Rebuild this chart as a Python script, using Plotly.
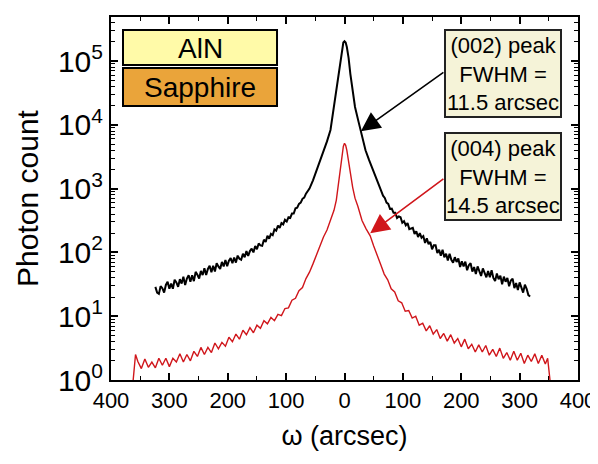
import plotly.graph_objects as go

# ---------------- data ----------------
omega_002 = [-324, -321, -318, -315, -312, -309, -306, -303, -300, -297, -294, -291, -288, -285, -282,
             -279, -276, -273, -270, -267, -264, -261, -258, -255, -252, -249, -246, -243, -240, -237,
             -234, -231, -228, -225, -222, -219, -216, -213, -210, -207, -204, -201, -198, -195, -192,
             -189, -186, -183, -180, -177, -174, -171, -168, -165, -162, -159, -156, -153, -150, -147,
             -144, -141, -138, -135, -132, -129, -126, -123, -120, -117, -114, -111, -108, -105, -102,
             -99, -96, -93, -90, -87, -84, -81, -78, -75, -72, -69, -66, -63, -60,
             -54, -48, -42, -36, -30, -24, -18, -14, -10, -7, -4, -2, 0, 2, 4, 7, 10, 14, 18, 24,
             30, 36, 42, 48, 54,
             60, 63, 66, 69, 72, 75, 78, 81, 84, 87, 90, 93, 96, 99, 102, 105, 108, 111, 114, 117,
             120, 123, 126, 129, 132, 135, 138, 141, 144, 147, 150, 153, 156, 159, 162, 165, 168, 171,
             174, 177, 180, 183, 186, 189, 192, 195, 198, 201, 204, 207, 210, 213, 216, 219, 222, 225,
             228, 231, 234, 237, 240, 243, 246, 249, 252, 255, 258, 261, 264, 267, 270, 273, 276, 279,
             282, 285, 288, 291, 294, 297, 300, 303, 306, 309, 312, 315, 318]
count_002 = [28.8, 23.4, 22.4, 29.5, 27.5, 23.4, 30.9, 34.7, 26.9, 32.4, 26.9, 37.2, 33.9, 28.8, 38.0,
             32.4, 41.7, 30.9, 38.9, 43.7, 34.7, 43.7, 35.5, 49.5, 44.7, 38.9, 51.3, 44.2, 56.2, 44.2,
             55.0, 61.7, 49.0, 61.7, 50.1, 67.6, 60.3, 55.0, 70.8, 60.3, 75.9, 61.0, 74.1, 81.3, 67.6,
             83.2, 69.2, 89.1, 79.4, 76.7, 95.5, 84.1, 105, 88.1, 105, 115, 100, 126, 112, 138,
             129, 127, 158, 146, 182, 164, 195, 186, 229, 219, 263, 243, 288, 275, 324,
             305, 355, 347, 407, 407, 490, 501, 575, 603, 692, 724, 832, 902, 1000,
             1349, 1905, 2692, 3802, 5495, 8318, 19953, 35481, 63096, 112202, 165959, 194984, 204174,
             194984, 165959, 112202, 63096, 31623, 19055, 11220,
             6607, 3981, 2818, 1995, 1413,
             1072, 912, 776, 716, 603, 575, 479, 484, 417, 417, 347, 367, 355, 292, 309, 266, 288,
             232, 240, 243, 195, 214, 174, 200, 170, 180, 141, 166, 135, 146, 112, 129, 129, 97.7,
             110, 89.1, 110, 84.1, 95.5, 75.0, 95.5, 76.7, 69.2, 84.1, 70.8, 80.4, 58.9, 72.4, 60.3,
             71.6, 52.5, 63.1, 67.6, 50.1, 58.9, 45.7, 60.3, 49.0, 42.7, 56.2, 49.0, 40.7, 51.3, 40.7,
             52.5, 39.8, 35.5, 46.8, 38.0, 43.2, 31.6, 41.7, 34.7, 39.8, 29.5, 36.3, 38.9, 27.5, 33.1,
             25.7, 33.9, 27.2, 23.4, 31.3, 26.9, 21.4, 20.4]

omega_004 = [-362, -358, -354, -348, -342, -336, -330, -324, -318, -312, -306, -300, -294, -288, -282,
             -276, -270, -264, -258, -252, -246, -240, -234, -228, -222, -216, -210, -204, -198, -192,
             -186, -180, -174, -168, -162, -156, -150, -144, -138, -132, -126, -120, -114, -108, -102,
             -96, -90, -84, -78, -72, -66, -60,
             -54, -48, -42, -36, -30, -24, -18, -14, -10, -7, -4, -2, 0, 2, 4, 7, 10, 14, 18, 23,
             30, 37, 44, 50, 56,
             62, 68, 74, 80, 86, 92, 98, 104, 110, 116, 122, 128, 134, 140, 146, 152, 158, 164, 170,
             176, 182, 188, 194, 200, 206, 212, 218, 224, 230, 236, 242, 248, 254, 260, 266, 272,
             278, 284, 290, 296, 302, 308, 314, 320, 326, 332, 338, 344, 348, 352]
count_004 = [1.0, 2.51, 1.95, 1.51, 2.14, 1.58, 1.91, 1.55, 2.19, 1.70, 2.19, 1.62, 2.19, 1.91, 2.57,
             1.91, 2.51, 2.00, 2.82, 2.34, 3.24, 2.51, 3.24, 2.69, 3.80, 3.09, 3.89, 3.39, 4.68, 3.98,
             5.25, 4.37, 6.03, 5.13, 6.61, 5.50, 7.24, 6.46, 8.51, 7.59, 9.55, 8.51, 10.7, 10.2, 13.2,
             13.5, 17.8, 19.1, 25.1, 28.2, 38.9, 49.0,
             66.1, 93.3, 126, 174, 224, 316, 457, 661, 1259, 2239, 3548, 4571, 5129, 4786, 3981,
             2818, 1778, 1047, 708, 525,
             316, 234, 182, 126, 87.1,
             64.6, 45.7, 37.2, 26.9, 24.0, 17.4, 16.2, 12.0, 12.3, 9.33, 10.0, 7.24, 7.76, 5.89,
             7.08, 5.25, 6.17, 4.47, 5.37, 4.07, 5.13, 3.80, 4.47, 3.31, 4.37, 3.09, 3.63, 2.75,
             3.55, 2.75, 3.47, 2.45, 3.02, 2.34, 3.16, 2.19, 2.69, 2.04, 2.82, 2.04, 2.63, 1.82,
             2.45, 1.95, 2.57, 1.82, 2.45, 1.78, 2.19, 1.0]

x_tickvals = [-400, -300, -200, -100, 0, 100, 200, 300, 400]
x_ticktext = ["400", "300", "200", "100", "0", "100", "200", "300", "400"]
y_tickvals = [1, 10, 100, 1000, 10000, 100000]
y_ticktext = ["10<sup>0</sup>", "10<sup>1</sup>", "10<sup>2</sup>",
              "10<sup>3</sup>", "10<sup>4</sup>", "10<sup>5</sup>"]

FONT = "Liberation Sans, Arial, sans-serif"
RED = "#D0161B"

fig = go.Figure()
fig.add_trace(go.Scatter(x=omega_002, y=count_002, mode="lines",
                         line=dict(color="black", width=2.0), showlegend=False))
fig.add_trace(go.Scatter(x=omega_004, y=count_004, mode="lines",
                         line=dict(color=RED, width=1.4), showlegend=False))

axis_common = dict(showgrid=False, zeroline=False, showline=True, linecolor="black",
                   linewidth=2, mirror="allticks", ticks="inside", tickcolor="black",
                   tickwidth=1.5, ticklen=7)

fig.update_xaxes(range=[-400, 400], tickvals=x_tickvals, ticktext=x_ticktext,
                 tickfont=dict(family=FONT, size=22, color="black"),
                 title=dict(text="ω (arcsec)", font=dict(family=FONT, size=27, color="black"),
                            standoff=14),
                 minor=dict(ticks="inside", ticklen=4, tickcolor="black", tickwidth=1.2, dtick=50),
                 **axis_common)
fig.update_yaxes(type="log", range=[0, 5.69], tickvals=y_tickvals, ticktext=y_ticktext,
                 tickfont=dict(family=FONT, size=30, color="black"),
                 title=dict(text="Photon count", font=dict(family=FONT, size=30, color="black"),
                            standoff=10),
                 minor=dict(ticks="inside", ticklen=4, tickcolor="black", tickwidth=1.2, dtick="D1"),
                 **axis_common)

shapes = [
    dict(type="rect", xref="paper", yref="paper", x0=0.0257, x1=0.3555, y0=0.8678, y1=0.9642,
         fillcolor="#FFFAA8", line=dict(color="black", width=2)),
    dict(type="rect", xref="paper", yref="paper", x0=0.0257, x1=0.3555, y0=0.7548, y1=0.8595,
         fillcolor="#EAA43A", line=dict(color="black", width=2)),
    dict(type="rect", xref="paper", yref="paper", x0=0.7152, x1=0.9636, y0=0.7245, y1=0.9642,
         fillcolor="#F5F3D8", line=dict(color="#222222", width=2)),
    dict(type="rect", xref="paper", yref="paper", x0=0.7152, x1=0.9636, y0=0.4408, y1=0.6804,
         fillcolor="#F5F3D8", line=dict(color="#222222", width=2)),
]

annotations = [
    dict(text="AlN", xref="paper", yref="paper", x=0.1906, y=0.9146, showarrow=False,
         font=dict(family=FONT, size=28, color="black"), xanchor="center", yanchor="middle"),
    dict(text="Sapphire", xref="paper", yref="paper", x=0.1906, y=0.807, showarrow=False,
         font=dict(family=FONT, size=28, color="black"), xanchor="center", yanchor="middle"),
    dict(text="(002) peak<br>FWHM =<br>11.5 arcsec", xref="paper", yref="paper",
         x=0.8394, y=0.8443, showarrow=False, align="center",
         font=dict(family=FONT, size=22, color="black"), xanchor="center", yanchor="middle"),
    dict(text="(004) peak<br>FWHM =<br>14.5 arcsec", xref="paper", yref="paper",
         x=0.8394, y=0.5606, showarrow=False, align="center",
         font=dict(family=FONT, size=22, color="black"), xanchor="center", yanchor="middle"),
    dict(text="", x=28, y=3.90, xref="x", yref="y", ax=172, ay=4.84, axref="x", ayref="y",
         showarrow=True, arrowhead=2, arrowsize=2.4, arrowwidth=1.6, arrowcolor="black"),
    dict(text="", x=44, y=2.30, xref="x", yref="y", ax=172, ay=3.17, axref="x", ayref="y",
         showarrow=True, arrowhead=2, arrowsize=2.4, arrowwidth=1.6, arrowcolor=RED),
]

fig.update_layout(width=598, height=464, margin=dict(l=103, r=28, t=9, b=92, autoexpand=False),
                  paper_bgcolor="white", plot_bgcolor="white",
                  shapes=shapes, annotations=annotations,
                  font=dict(family=FONT, color="black"))

fig.write_html("out.html")
